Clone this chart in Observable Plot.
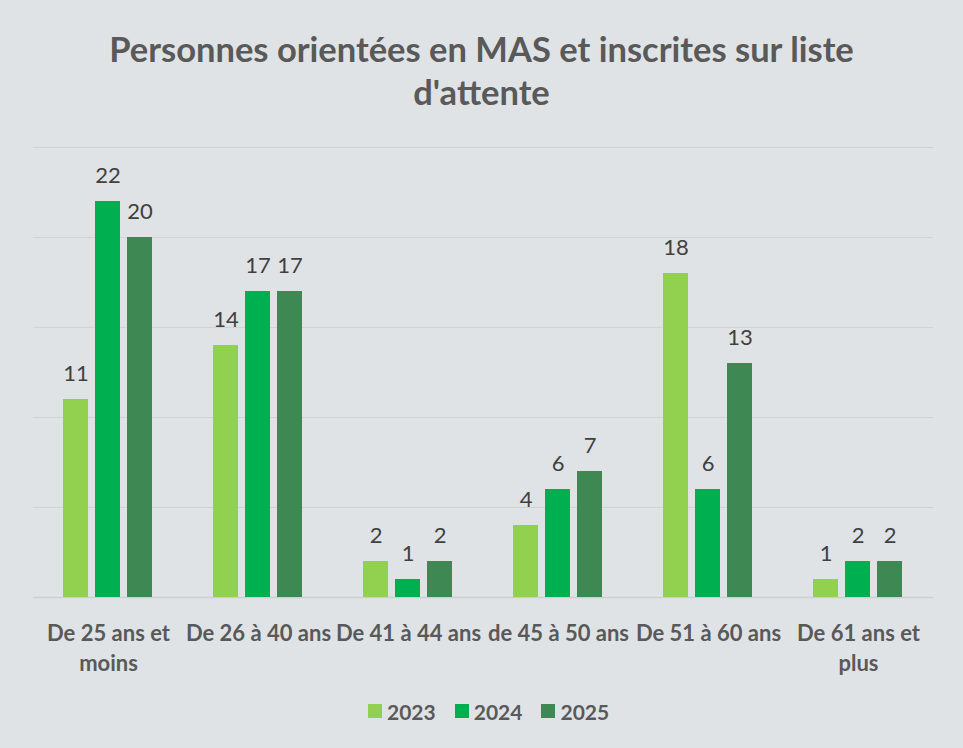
<!DOCTYPE html>
<html><head><meta charset="utf-8">
<script src="https://cdn.jsdelivr.net/npm/d3@7"></script>
<script src="https://cdn.jsdelivr.net/npm/@observablehq/plot@0.6"></script>
<style>
body{margin:0;background:#dfe3e6;}
#wrap{position:relative;width:963px;height:748px;background:#dfe3e6;font-family:Lato,sans-serif;overflow:hidden}
#title{position:absolute;left:0;top:27px;width:963px;text-align:center;font-weight:bold;font-size:34.5px;line-height:43px;color:#595959}
#chart{position:absolute;left:0;top:130px}
#legend{position:absolute;left:368px;top:699px;height:24px;display:flex;align-items:center;font-weight:bold;font-size:21px;color:#595959}
.item{display:flex;align-items:center;margin-right:19px}
.sw{width:14px;height:14px;margin-right:5px}
</style></head>
<body>
<div id="wrap">
  <div id="title">Personnes orientées en MAS et inscrites sur liste<br>d'attente</div>
  <div id="chart"></div>
  <div id="legend"></div>
</div>
<script>
const categories = ["De 25 ans et moins","De 26 à 40 ans","De 41 à 44 ans","de 45 à 50 ans","De 51 à 60 ans","De 61 ans et plus"];
const categoryLabels = ["De 25 ans et\nmoins","De 26 à 40 ans","De 41 à 44 ans","de 45 à 50 ans","De 51 à 60 ans","De 61 ans et\nplus"];
const years = ["2023","2024","2025"];
const values2023 = [11,14,2,4,18,1];
const values2024 = [22,17,1,6,6,2];
const values2025 = [20,17,2,7,13,2];
const yTicks = [0,5,10,15,20,25];
const colors = ["#92d050","#00b050","#3e8853"];

const series = [values2023, values2024, values2025];
const data = [];
categories.forEach((c,i) => years.forEach((y,j) => data.push({category:c, year:y, value:series[j][i]})));
const labelOf = new Map(categories.map((c,i)=>[c,categoryLabels[i]]));

const chart = Plot.plot({
  width: 963,
  height: 555,
  marginLeft: 33,
  marginRight: 30,
  marginTop: 17,
  marginBottom: 88,
  style: {background: "transparent", fontFamily: "Lato, sans-serif"},
  fx: {domain: categories, padding: 0, label: null, axis: null},
  x: {domain: years, paddingInner: 0.212, paddingOuter: 0.879, axis: null},
  y: {domain: [0, 25], axis: null},
  color: {domain: years, range: colors},
  marks: [
    Plot.ruleY(yTicks.filter(d => d > 0), {stroke: "#cfd3d6", strokeWidth: 1.2}),
    Plot.ruleY([0], {stroke: "#cbcfd2", strokeWidth: 1.5}),
    Plot.barY(data, {fx: "category", x: "year", y: "value", fill: "year"}),
    Plot.text(data, {fx: "category", x: "year", y: "value", text: d => String(d.value), dy: -26, lineAnchor: "middle", fontSize: 22, fill: "#404040"}),
    Plot.axisFx({anchor: "bottom", tickSize: 0, tickPadding: 22, label: null, tickFormat: d => labelOf.get(d), fontSize: 22, fontWeight: "bold", fill: "#595959", lineHeight: 1.36, lineAnchor: "top"})
  ]
});
document.getElementById("chart").appendChild(chart);

const legend = document.getElementById("legend");
years.forEach((y,j) => {
  const it = document.createElement("div"); it.className = "item";
  const sw = document.createElement("div"); sw.className = "sw"; sw.style.background = colors[j];
  const t = document.createElement("span"); t.textContent = y;
  it.appendChild(sw); it.appendChild(t); legend.appendChild(it);
});
</script>
</body></html>
